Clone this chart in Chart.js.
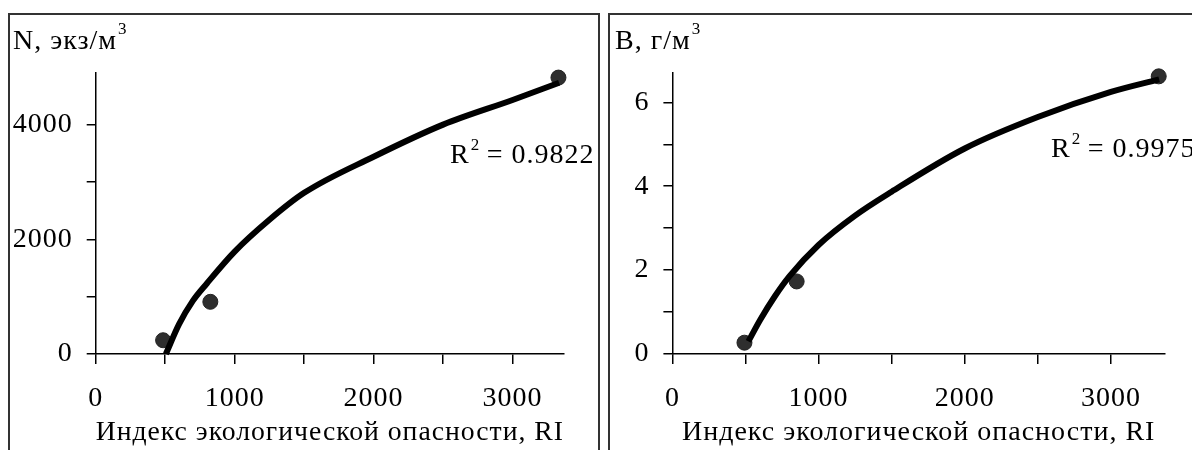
<!DOCTYPE html>
<html>
<head>
<meta charset="utf-8">
<script src="https://cdn.jsdelivr.net/npm/chart.js@4.4.0/dist/chart.umd.min.js"></script>
<style>
body{margin:0;background:#fff;width:1192px;height:450px;overflow:hidden;position:relative}
.panel{position:absolute;top:13px;height:437px;border:2px solid #333;border-bottom:none;box-sizing:border-box;overflow:hidden}
#p1{left:8px;width:592px}
#p2{left:608px;width:600px}
canvas{position:absolute;left:0;top:0}
</style>
</head>
<body>
<div class="panel" id="p1"><canvas id="chartN" width="588" height="435"></canvas></div>
<div class="panel" id="p2"><canvas id="chartB" width="590" height="435"></canvas></div>
<script>
// observed points
const riObsN = [485, 825, 3330];
const nObs = [240, 910, 4820];
const riObsB = [493, 850, 3327];
const bObs = [0.27, 1.73, 6.62];

// trend lines
const riFitN = [505, 600, 700, 800, 1000, 1250, 1500, 2000, 2500, 3000, 3335];
const nFit = [0, 520, 930, 1230, 1785, 2340, 2810, 3440, 4000, 4430, 4730];
const riFitB = [520, 600, 700, 800, 1000, 1250, 1500, 2000, 2500, 3000, 3330];
const bFit = [0.3, 0.81, 1.37, 1.85, 2.6, 3.3, 3.87, 4.9, 5.65, 6.25, 6.55];

// ticks (marks at every value, labels only where text is given)
const xTickValues = [0, 500, 1000, 1500, 2000, 2500, 3000];
const xTickLabels = ['0', '', '1000', '', '2000', '', '3000'];
const nTickValues = [0, 1000, 2000, 3000, 4000];
const nTickLabels = ['0', '', '2000', '', '4000'];
const bTickValues = [0, 1, 2, 3, 4, 5, 6];
const bTickLabels = ['0', '', '2', '', '4', '', '6'];

const serif = "'Liberation Serif', 'Times New Roman', serif";

function pts(xs, ys){
    return xs.map((x, i) => ({x: x, y: ys[i]}));
}

// y-axis caption and R^2 drawn as plain canvas text
function textPlugin(label, r2, pos){
    return {
        id: 'texts',
        beforeDraw(chart){
            chart.ctx.letterSpacing = '1px';
        },
        afterDraw(chart){
            const ctx = chart.ctx;
            ctx.save();
            ctx.fillStyle = '#000';
            ctx.textAlign = 'left';
            ctx.textBaseline = 'alphabetic';
            ctx.font = '28px ' + serif;
            ctx.fillText(label, pos.lx, pos.ly);
            let w = ctx.measureText(label).width;
            ctx.font = '17px ' + serif;
            ctx.fillText('3', pos.lx + w + 1, pos.ly - 15);

            ctx.font = '28px ' + serif;
            ctx.fillText('R', pos.rx, pos.ry);
            w = ctx.measureText('R').width;
            ctx.font = '17px ' + serif;
            ctx.fillText('2', pos.rx + w + 1, pos.ry - 13);
            ctx.font = '28px ' + serif;
            ctx.fillText(' = ' + r2, pos.rx + w + 9, pos.ry);
            ctx.restore();
        }
    };
}

function makeChart(id, obsX, obsY, fitX, fitY, yMax, yTicks, yLabels, areaLeft, padRight, label, r2, pos){
    return new Chart(document.getElementById(id), {
        type: 'scatter',
        data: {
            datasets: [{
                data: pts(fitX, fitY),
                showLine: true,
                borderColor: '#000',
                borderWidth: 6,
                pointRadius: 0,
                clip: false,
                cubicInterpolationMode: 'monotone'
            }, {
                data: pts(obsX, obsY),
                pointRadius: 7.5,
                backgroundColor: '#2e2e2e',
                borderColor: '#222',
                borderWidth: 1,
                clip: false
            }]
        },
        options: {
            responsive: false,
            animation: false,
            layout: {padding: {top: 58, right: padRight, left: 0, bottom: 0}},
            plugins: {legend: {display: false}, tooltip: {enabled: false}},
            scales: {
                x: {
                    type: 'linear',
                    min: 0,
                    max: 3370,
                    afterBuildTicks: s => { s.ticks = xTickValues.map(v => ({value: v})); },
                    afterFit: s => { s.height = 96; },
                    ticks: {
                        autoSkip: false,
                        maxRotation: 0,
                        padding: 18,
                        color: '#000',
                        font: {family: serif, size: 28},
                        callback: (v, i) => xTickLabels[i]
                    },
                    grid: {drawOnChartArea: false, drawTicks: true, tickLength: 10, color: '#000', lineWidth: 1.5},
                    border: {display: true, color: '#000', width: 1.5},
                    title: {
                        display: true,
                        text: 'Индекс экологической опасности, RI',
                        color: '#000',
                        font: {family: serif, size: 28, lineHeight: 1},
                        padding: {top: 0, bottom: 3}
                    }
                },
                y: {
                    min: 0,
                    max: yMax,
                    afterBuildTicks: s => { s.ticks = yTicks.map(v => ({value: v})); },
                    afterFit: s => { s.width = areaLeft; },
                    ticks: {
                        autoSkip: false,
                        padding: 14,
                        color: '#000',
                        font: {family: serif, size: 28},
                        callback: (v, i) => yLabels[i]
                    },
                    grid: {drawOnChartArea: false, drawTicks: true, tickLength: 9, color: '#000', lineWidth: 1.5},
                    border: {display: true, color: '#000', width: 1.5}
                }
            }
        },
        plugins: [textPlugin(label, r2, pos)]
    });
}

makeChart('chartN', riObsN, nObs, riFitN, nFit, 4900, nTickValues, nTickLabels, 85.7, 34,
    'N, экз/м', '0.9822', {lx: 3, ly: 34, rx: 440, ry: 148});
makeChart('chartB', riObsB, bObs, riFitB, bFit, 6.7, bTickValues, bTickLabels, 62.4, 35,
    'B, г/м', '0.9975', {lx: 5, ly: 34, rx: 441, ry: 142});
</script>
</body>
</html>
